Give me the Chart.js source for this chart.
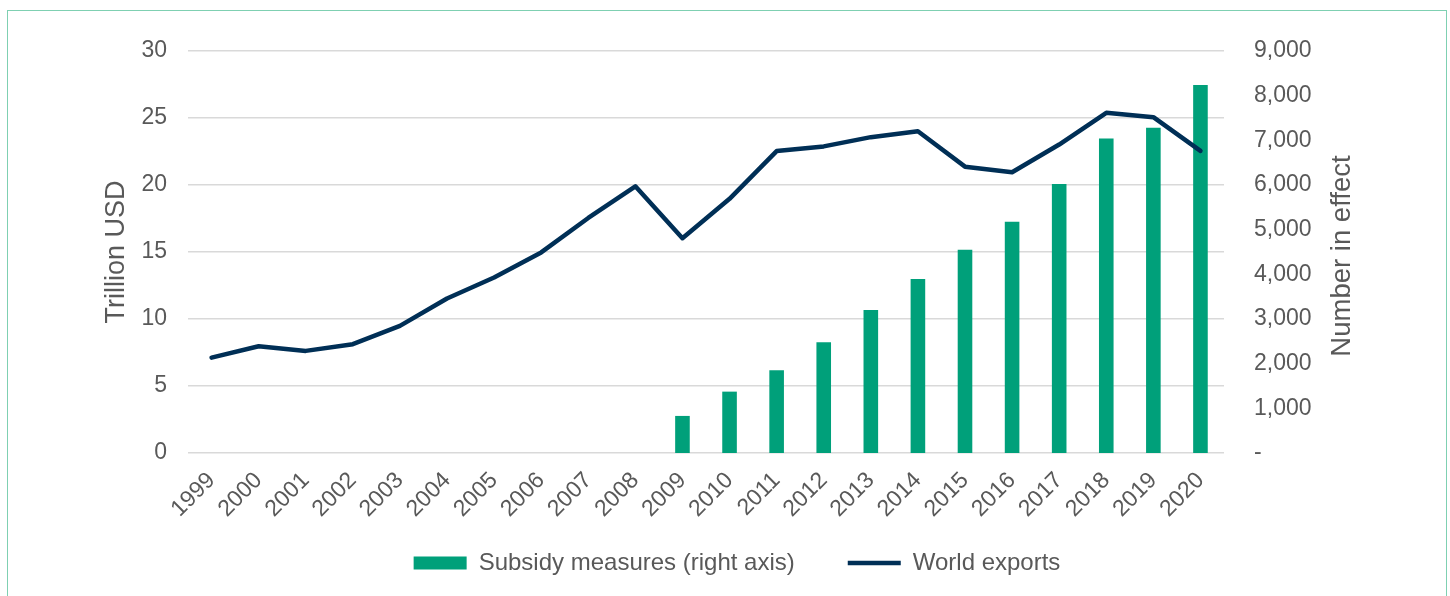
<!DOCTYPE html>
<html lang="en">
<head>
    <meta charset="UTF-8">
    <title>Subsidy measures and world exports</title>
    <script src="https://cdn.jsdelivr.net/npm/chart.js"></script>
    <style>
        html, body {
            margin: 0;
            padding: 0;
            background: #fff;
            overflow: hidden;
        }
        .frame {
            position: absolute;
            left: 7px;
            top: 10px;
            width: 1438px;
            height: 620px;
            border: 1.5px solid #7fd0b2;
            pointer-events: none;
        }
        .chart-box {
            position: absolute;
            left: 0;
            top: 0;
            width: 1450px;
            height: 596px;
        }
    </style>
</head>
<body>
    <div class="chart-box"><canvas id="exportsChart" width="1450" height="596"></canvas></div>
    <div class="frame"></div>

    <script>
        const years = ['1999', '2000', '2001', '2002', '2003', '2004', '2005', '2006', '2007', '2008', '2009',
            '2010', '2011', '2012', '2013', '2014', '2015', '2016', '2017', '2018', '2019', '2020'];
        // number of subsidy measures in effect (right axis)
        const subsidyMeasures = [null, null, null, null, null, null, null, null, null, null, 830,
            1374, 1854, 2482, 3199, 3894, 4552, 5179, 6024, 7040, 7280, 8240];
        // world exports, trillion USD (left axis)
        const worldExports = [7.12, 7.97, 7.62, 8.12, 9.49, 11.53, 13.1, 14.97, 17.54, 19.9, 16.03,
            18.97, 22.53, 22.88, 23.57, 24.01, 21.37, 20.95, 23.02, 25.39, 25.06, 22.55];
        const leftTicks = [0, 5, 10, 15, 20, 25, 30];
        const rightTicks = [0, 1000, 2000, 3000, 4000, 5000, 6000, 7000, 8000, 9000];

        const textColor = '#595959';
        const fontFamily = '"Liberation Sans", Arial, sans-serif';

        // right axis title reads bottom-to-top like the left one
        const rightTitle = {
            id: 'rightTitle',
            afterDraw(chart) {
                const ctx = chart.ctx;
                const area = chart.chartArea;
                ctx.save();
                ctx.translate(1342, (area.top + area.bottom) / 2 + 4);
                ctx.rotate(-Math.PI / 2);
                ctx.font = '27.5px ' + fontFamily;
                ctx.fillStyle = textColor;
                ctx.textAlign = 'center';
                ctx.textBaseline = 'middle';
                ctx.fillText('Number in effect', 0, 0);
                ctx.restore();
            }
        };

        // the x axis box is kept short so the legend sits close; let its labels draw below it
        const xLabelRoom = {
            id: 'xLabelRoom',
            afterLayout(chart) {
                chart.scales.x.bottom = chart.scales.x.top + 90;
            }
        };

        new Chart(document.getElementById('exportsChart'), {
            data: {
                labels: years,
                datasets: [
                    {
                        type: 'bar',
                        label: 'Subsidy measures (right axis)',
                        data: subsidyMeasures,
                        yAxisID: 'yRight',
                        backgroundColor: '#00a07a',
                        borderWidth: 0,
                        barPercentage: 0.31,
                        categoryPercentage: 1,
                        pointStyle: 'rect',
                        order: 2
                    },
                    {
                        type: 'line',
                        label: 'World exports',
                        data: worldExports,
                        yAxisID: 'yLeft',
                        borderColor: '#002f56',
                        backgroundColor: '#002f56',
                        borderWidth: 4.5,
                        borderCapStyle: 'round',
                        borderJoinStyle: 'round',
                        pointRadius: 0,
                        pointStyle: 'line',
                        tension: 0,
                        order: 1
                    }
                ]
            },
            options: {
                responsive: false,
                animation: false,
                layout: { padding: { top: 51, left: 24, right: 0, bottom: 11 } },
                plugins: {
                    tooltip: { enabled: false },
                    legend: {
                        position: 'bottom',
                        labels: {
                            usePointStyle: true,
                            pointStyleWidth: 53,
                            boxHeight: 13,
                            padding: 53,
                            color: textColor,
                            font: { size: 24, family: fontFamily },
                            sort: (a, b) => a.datasetIndex - b.datasetIndex
                        }
                    }
                },
                scales: {
                    x: {
                        grid: { display: false, drawTicks: false },
                        border: { display: false },
                        ticks: {
                            color: textColor,
                            font: { size: 23, family: fontFamily },
                            minRotation: 45,
                            maxRotation: 45,
                            padding: 14,
                            autoSkip: false
                        },
                        afterFit(scale) { scale.height = 45; }
                    },
                    yLeft: {
                        position: 'left',
                        min: 0,
                        max: 30,
                        afterBuildTicks(scale) { scale.ticks = leftTicks.map(v => ({ value: v })); },
                        grid: { color: '#d9d9d9', lineWidth: 1.5, drawTicks: false },
                        border: { display: false },
                        ticks: {
                            color: textColor,
                            font: { size: 23, family: fontFamily },
                            padding: 21
                        },
                        title: {
                            display: true,
                            text: 'Trillion USD',
                            color: textColor,
                            font: { size: 27, family: fontFamily },
                            padding: { top: 76, bottom: 0 }
                        },
                        afterFit(scale) { scale.width = 164; }
                    },
                    yRight: {
                        position: 'right',
                        min: 0,
                        max: 9000,
                        afterBuildTicks(scale) { scale.ticks = rightTicks.map(v => ({ value: v })); },
                        grid: { display: false, drawTicks: false },
                        border: { display: false },
                        ticks: {
                            color: textColor,
                            font: { size: 23, family: fontFamily },
                            padding: 30,
                            callback: v => v === 0 ? '-' : v.toLocaleString('en-US')
                        },
                        afterFit(scale) { scale.width = 226; }
                    }
                }
            },
            plugins: [rightTitle, xLabelRoom]
        });
    </script>
</body>
</html>
